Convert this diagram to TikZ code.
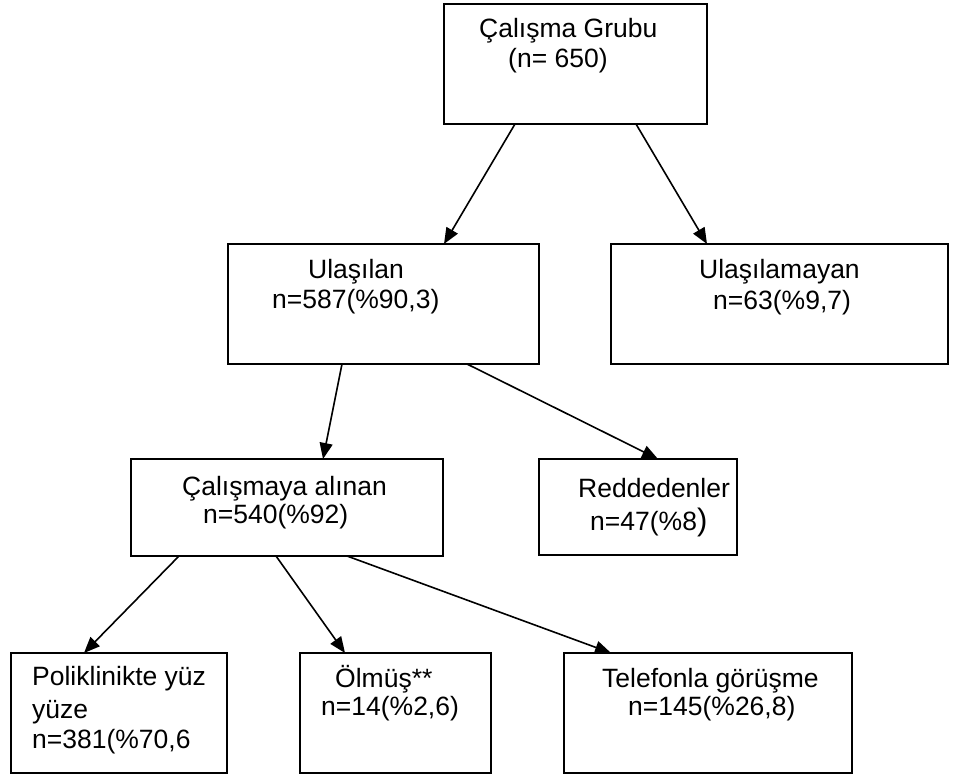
\documentclass[tikz,border=0pt]{standalone}
\usepackage{fontspec}
\setmainfont{Liberation Sans}
\usetikzlibrary{arrows.meta,calc,positioning}

\begin{document}
\begin{tikzpicture}[x=1pt, y=-1pt, >={Triangle[length=16pt,width=13pt]},
  box/.style={draw, line width=1.7pt, inner sep=0pt, outer sep=0pt, anchor=north west},
  txt/.style={anchor=base west, inner sep=0pt, font=\fontsize{26.5}{31}\selectfont},
  link/.style={->, line width=1.6pt}]
  \useasboundingbox (0,0) rectangle (964,775);
  % boxes
  \node[box, minimum width=263pt, minimum height=120pt] (grup) at (444,4) {};
  \node[box, minimum width=311pt, minimum height=120pt] (ulas) at (228,244) {};
  \node[box, minimum width=337pt, minimum height=120pt] (ulasma) at (611,244) {};
  \node[box, minimum width=312pt, minimum height=97pt] (alinan) at (131,459) {};
  \node[box, minimum width=198pt, minimum height=96pt] (red) at (539,459) {};
  \node[box, minimum width=216pt, minimum height=120pt] (polik) at (11,653) {};
  \node[box, minimum width=191pt, minimum height=120pt] (olmus) at (300,653) {};
  \node[box, minimum width=288pt, minimum height=120pt] (tel) at (564,653) {};
  % texts
  \node[txt] (grupA) at (479,38) {Çalışma Grubu};
  \node[txt] (grupB) at (508,68) {(n= 650)};
  \node[txt] (ulasA) at (308,279) {Ulaşılan};
  \node[txt] (ulasB) at (272,309) {n=587(\%90,3)};
  \node[txt] (ulasmaA) at (699,279) {Ulaşılamayan};
  \node[txt] (ulasmaB) at (713,310) {n=63(\%9,7)};
  \node[txt] (alinanA) at (182,495) {Çalışmaya alınan};
  \node[txt] (alinanB) at (203,523) {n=540(\%92)};
  \node[txt] (redA) at (578,497) {Reddedenler};
  \node[txt] (redB) at (590,530) {n=47(\%8{\fontsize{31}{31}\selectfont)}};
  \node[txt] (polikA) at (32,685) {Poliklinikte yüz};
  \node[txt] (polikB) at (32,718) {yüze};
  \node[txt] (polikC) at (32,748) {n=381(\%70,6};
  \node[txt] (olmusA) at (335,687) {Ölmüş**};
  \node[txt] (olmusB) at (321,715) {n=14(\%2,6)};
  \node[txt] (telA) at (602,687) {Telefonla görüşme};
  \node[txt] (telB) at (628,715) {n=145(\%26,8)};
  % arrows
  \draw[link] ([xshift=71pt]grup.south west) -- ([xshift=216pt]ulas.north west);
  \draw[link] ([xshift=192pt]grup.south west) -- ([xshift=96pt]ulasma.north west);
  \draw[link] ([xshift=114pt]ulas.south west) -- ([xshift=192pt]alinan.north west);
  \draw[link] ([xshift=239pt]ulas.south west) -- ([xshift=119pt]red.north west);
  \draw[link] ([xshift=48pt]alinan.south west) -- ([xshift=73pt]polik.north west);
  \draw[link] ([xshift=145pt]alinan.south west) -- ([xshift=45pt]olmus.north west);
  \draw[link] ([xshift=216pt]alinan.south west) -- ([xshift=47pt]tel.north west);
\end{tikzpicture}
\end{document}
